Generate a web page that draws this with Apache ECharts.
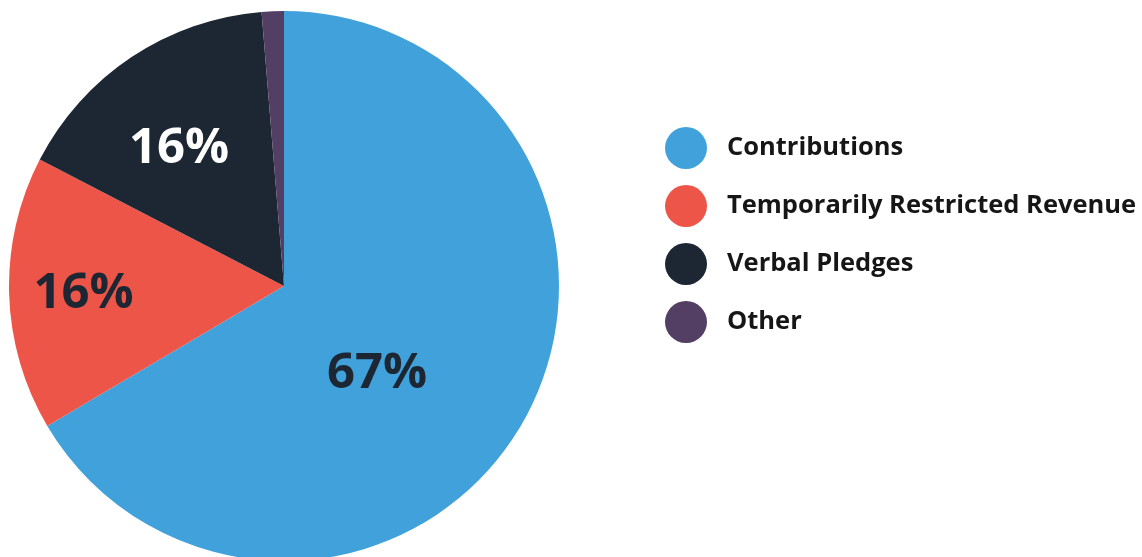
<!DOCTYPE html>
<html>
<head>
<meta charset="utf-8">
<script src="https://cdn.jsdelivr.net/npm/echarts@6/dist/echarts.min.js"></script>
<style>html,body{margin:0;padding:0;background:#fff;}#c{width:1142px;height:557px;}</style>
</head>
<body>
<div id="c"></div>
<script>
var categories = ['Contributions', 'Temporarily Restricted Revenue', 'Verbal Pledges', 'Other'];
var values = [66.5, 16.1, 16.1, 1.3];

var colors = ['#41a1db', '#ee5549', '#1c2733', '#523f63'];
var labelColors = ['#1c2733', '#1c2733', '#ffffff', '#ffffff'];
var labelOffsets = [[-29, 18], [-60, 4], [-27, -20], [0, 0]];
var labelShow = [true, true, true, false];

var chart = echarts.init(document.getElementById('c'), null, {renderer: 'canvas'});
var data = categories.map(function (n, i) {
  return {
    name: n,
    value: values[i],
    itemStyle: {color: colors[i]},
    label: {show: labelShow[i], color: labelColors[i], offset: labelOffsets[i]}
  };
});
chart.setOption({
  animation: false,
  legend: {
    orient: 'vertical',
    left: 660,
    top: 122,
    icon: 'circle',
    itemWidth: 42,
    itemHeight: 42,
    itemGap: 16,
    data: categories,
    textStyle: {fontFamily: 'Open Sans', fontWeight: 'bold', fontSize: 25.5, color: '#161616', padding: [0, 0, 0, 15]}
  },
  series: [{
    type: 'pie',
    center: [284, 286],
    radius: 275,
    startAngle: 90,
    clockwise: true,
    silent: true,
    label: {
      position: 'inside',
      fontFamily: 'Open Sans',
      fontWeight: 'bold',
      fontSize: 49,
      formatter: function (p) { return Math.round(p.value) + '%'; }
    },
    labelLine: {show: false},
    itemStyle: {borderWidth: 0},
    data: data
  }]
});
</script>
</body>
</html>
